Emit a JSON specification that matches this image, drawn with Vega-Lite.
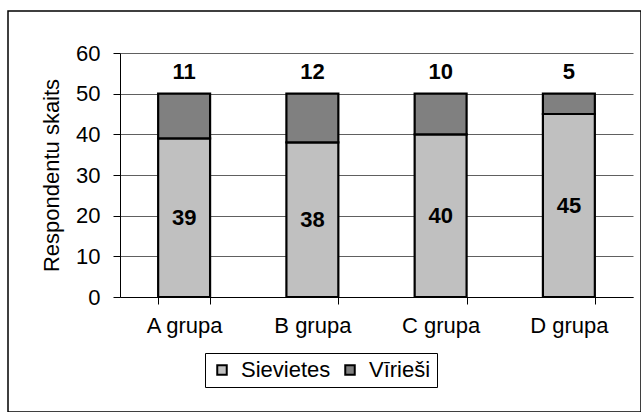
{
  "$schema": "https://vega.github.io/schema/vega-lite/v6.json",
  "autosize": "none",
  "width": 633,
  "height": 401,
  "padding": {"left": 8, "top": 11, "right": 0, "bottom": 0},
  "background": "white",
  "config": {
    "font": "Liberation Sans",
    "view": {"stroke": "black", "strokeWidth": 1.5},
    "axis": {"labelColor": "black", "titleColor": "black", "labelFontSize": 22, "titleFontSize": 22, "titleFontWeight": "normal"}
  },
  "data": {
    "values": [
      {"grupa": "A grupa", "dzimums": "Sievietes", "skaits": 39},
      {"grupa": "A grupa", "dzimums": "Vīrieši", "skaits": 11},
      {"grupa": "B grupa", "dzimums": "Sievietes", "skaits": 38},
      {"grupa": "B grupa", "dzimums": "Vīrieši", "skaits": 12},
      {"grupa": "C grupa", "dzimums": "Sievietes", "skaits": 40},
      {"grupa": "C grupa", "dzimums": "Vīrieši", "skaits": 10},
      {"grupa": "D grupa", "dzimums": "Sievietes", "skaits": 45},
      {"grupa": "D grupa", "dzimums": "Vīrieši", "skaits": 5}
    ]
  },
  "transform": [
    {"stack": "skaits", "groupby": ["grupa"], "sort": [{"field": "dzimums", "order": "ascending"}], "as": ["y0", "y1"]}
  ],
  "encoding": {
    "x": {
      "field": "grupa",
      "type": "nominal",
      "scale": {"range": [112, 625], "paddingInner": 0.595, "paddingOuter": 0.2975},
      "axis": {
        "orient": "bottom",
        "offset": -115,
        "tickBand": "extent",
        "grid": false,
        "labelAngle": 0,
        "title": null,
        "tickSize": 7,
        "labelPadding": 11,
        "domainColor": "black",
        "tickColor": "black"
      }
    }
  },
  "resolve": {"scale": {"y": "independent"}},
  "layer": [
    {
      "mark": {"type": "bar", "stroke": "black", "strokeWidth": 2.2},
      "encoding": {
        "y": {
          "field": "y0",
          "type": "quantitative",
          "scale": {"domain": [0, 60], "range": [286, 42], "nice": false, "zero": true},
          "axis": {
            "orient": "left",
            "offset": -112,
            "values": [0, 10, 20, 30, 40, 50, 60],
            "title": "Respondentu skaits",
            "grid": true,
            "gridColor": "#606060",
            "domainColor": "black",
            "tickColor": "black",
            "tickSize": 7,
            "labelPadding": 13,
            "titlePadding": 12
          }
        },
        "y2": {"field": "y1"},
        "color": {
          "field": "dzimums",
          "type": "nominal",
          "scale": {"domain": ["Sievietes", "Vīrieši"], "range": ["#C0C0C0", "#808080"]},
          "legend": {
            "orient": "none",
            "legendX": 197,
            "legendY": 342,
            "direction": "horizontal",
            "title": null,
            "strokeColor": "black",
            "fillColor": "white",
            "padding": 6,
            "labelFontSize": 22,
            "labelColor": "black",
            "symbolType": "square",
            "symbolSize": 90,
            "symbolStrokeColor": "black",
            "symbolStrokeWidth": 2,
            "labelOffset": 8,
            "columnPadding": 8
          }
        }
      }
    },
    {
      "transform": [{"filter": "datum.dzimums == 'Sievietes'"}],
      "mark": {"type": "text", "fontWeight": "bold", "fontSize": 22, "baseline": "middle", "color": "black"},
      "encoding": {
        "y": {
          "field": "skaits",
          "type": "quantitative",
          "scale": {"domain": [0, 120], "range": [286, 42], "nice": false, "zero": true},
          "axis": null
        },
        "text": {"field": "skaits", "type": "quantitative"}
      }
    },
    {
      "transform": [{"filter": "datum.dzimums == 'Vīrieši'"}],
      "mark": {"type": "text", "fontWeight": "bold", "fontSize": 22, "baseline": "middle", "color": "black", "dy": -22},
      "encoding": {
        "y": {
          "field": "y1",
          "type": "quantitative",
          "scale": {"domain": [0, 60], "range": [286, 42], "nice": false, "zero": true},
          "axis": null
        },
        "text": {"field": "skaits", "type": "quantitative"}
      }
    }
  ]
}
